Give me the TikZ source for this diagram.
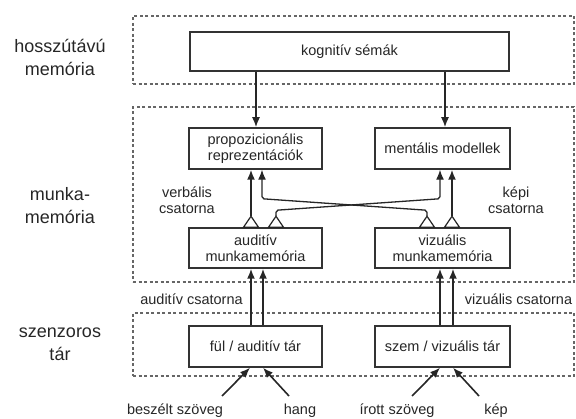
\documentclass[tikz,border=0pt]{standalone}
\usepackage{fontspec}
\setmainfont{Liberation Sans}
\usetikzlibrary{arrows.meta,calc}
\begin{document}
\begin{tikzpicture}[x=1pt,y=-1pt,
  zone/.style={draw=black!60, line width=1.2pt, dash pattern=on 3pt off 2.5pt, minimum width=441pt, inner sep=0pt},
  box/.style={draw=black!80, line width=1.5pt, fill=white, align=center, font=\fontsize{14.5}{16}\selectfont, text=black!85, inner sep=0pt},
  lab/.style={align=center, font=\fontsize{14.5}{16}\selectfont, text=black!85, inner sep=0pt},
  side/.style={align=center, font=\fontsize{18}{23}\selectfont, text=black!85, inner sep=0pt},
  arr/.style={line width=1.6pt, draw=black!85, -{Latex[length=10pt,width=8pt]}},
  link/.style={line width=1.3pt, draw=black!85, rounded corners=2pt, -{Latex[length=10pt,width=8pt]}},
  tri/.style={draw=black!85, line width=1.2pt, fill=white, line join=miter},
  ]
\useasboundingbox (0,0) rectangle (576,419);

% zones
\node[zone, minimum height=68pt]  (ztop) at (353.5,50) {};
\node[zone, minimum height=175pt] (zmid) at (353.5,194.5) {};
\node[zone, minimum height=63pt]  (zbot) at (353.5,344.5) {};

% side labels
\node[side] (lt) at (60,57)  {hosszútávú\\memória};
\node[side] (lm) at (60,206) {munka-\\memória};
\node[side] (lb) at (60,344) {szenzoros\\tár};

% boxes
\node[box, minimum width=319pt, minimum height=39pt] (kog)  at (349.5,51.5) {kognitív sémák};
\node[box, minimum width=133pt, minimum height=41pt] (prop) at (255.5,148.5) {propozicionális\\reprezentációk};
\node[box, minimum width=135pt, minimum height=41pt] (ment) at (442.5,148.5) {mentális modellek};
\node[box, minimum width=133pt, minimum height=40pt] (aud)  at (255.5,248) {auditív\\munkamemória};
\node[box, minimum width=135pt, minimum height=40pt] (viz)  at (442.5,248) {vizuális\\munkamemória};
\node[box, minimum width=133pt, minimum height=41pt] (ful)  at (255.5,346.5) {fül / auditív tár};
\node[box, minimum width=135pt, minimum height=41pt] (szem) at (442.5,346.5) {szem / vizuális tár};

% channel labels
\node[lab] (vc)  at (187,200) {verbális\\csatorna};
\node[lab] (kc)  at (516,200) {képi\\csatorna};
\node[lab] (ac)  at (191.5,299) {auditív csatorna};
\node[lab] (zc)  at (518.5,299) {vizuális csatorna};

% input labels
\node[lab] (in1) at (175,411) {beszélt szöveg};
\node[lab] (in2) at (300,411) {hang};
\node[lab] (in3) at (397,411) {írott szöveg};
\node[lab] (in4) at (496,411) {kép};

% long-term to working memory
\draw[arr] ($(kog.south -| prop.north)+(0.5,0)$) -- ($(prop.north)+(0.5,0)$);
\draw[arr] ($(kog.south -| ment.north)+(2.5,0)$) -- ($(ment.north)+(2.5,0)$);

% triangles on working memory boxes
\foreach \n/\dx in {a1/-4.5, a2/20.5} {
  \coordinate (\n) at ($(aud.north)+(\dx,-11)$);
  \draw[tri] ($(aud.north)+(\dx-7.5,0)$) -- ($(aud.north)+(\dx+7.5,0)$) -- (\n) -- cycle;
}
\foreach \n/\dx in {v1/-15.5, v2/9.5} {
  \coordinate (\n) at ($(viz.north)+(\dx,-11)$);
  \draw[tri] ($(viz.north)+(\dx-7.5,0)$) -- ($(viz.north)+(\dx+7.5,0)$) -- (\n) -- cycle;
}

% working memory connections
\draw[arr] (a1) -- (a1 |- prop.south);
\draw[arr] (v2) -- (v2 |- ment.south);
\draw[link] (a2) -- ($(a2)+(0,-6)$) -- ($(ment.south)+(-2.5,29)$) -- ($(ment.south)+(-2.5,0)$);
\draw[link] (v1) -- ($(v1)+(0,-6)$) -- ($(prop.south)+(6.5,29)$) -- ($(prop.south)+(6.5,0)$);

% sensory to working memory
\draw[arr] ($(ful.north)+(-4.5,0)$) -- ($(aud.south)+(-4.5,0)$);
\draw[arr] ($(ful.north)+(7.5,0)$)  -- ($(aud.south)+(7.5,0)$);
\draw[arr] ($(szem.north)+(-2.5,0)$) -- ($(viz.south)+(-2.5,0)$);
\draw[arr] ($(szem.north)+(10.5,0)$) -- ($(viz.south)+(10.5,0)$);

% inputs
\coordinate (s1) at (222,396);
\coordinate (s2) at (289,396);
\coordinate (s3) at (412,396);
\coordinate (s4) at (479,396);
\draw[arr] (s1) -- ($(ful.south)+(-5.5,0)$);
\draw[arr] (s2) -- ($(ful.south)+(7.5,0)$);
\draw[arr] (s3) -- ($(szem.south)+(-2.5,0)$);
\draw[arr] (s4) -- ($(szem.south)+(10.5,0)$);
\end{tikzpicture}
\end{document}
